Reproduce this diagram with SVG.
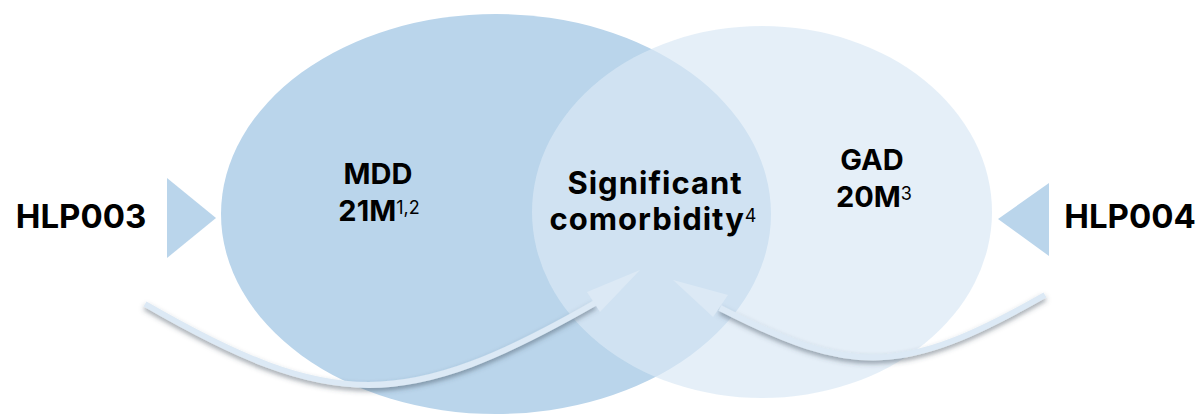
<svg xmlns="http://www.w3.org/2000/svg" width="1198" height="415" viewBox="0 0 1198 415">
<defs>
<style>
.lbl{font-family:Inter,"Liberation Sans",sans-serif;font-weight:700;fill:#000;}
.sup{font-weight:400;}
.band{fill:none;stroke:#DCE9F5;stroke-width:6;stroke-linecap:butt;}
.head{fill:#DCE9F5;}
.tri{fill:#BAD5EB;}
</style>
<filter id="sh" x="-10%" y="-30%" width="120%" height="160%">
<feDropShadow dx="0" dy="3" stdDeviation="2.5" flood-color="#3a4a5a" flood-opacity="0.5"/>
</filter>
</defs>
<rect width="1198" height="415" fill="#fff"/>
<g id="mdd">
<ellipse cx="496" cy="214" rx="275" ry="200" fill="#BAD5EB"/>
</g>
<g id="gad">
<ellipse cx="762" cy="212" rx="230" ry="186" fill="#DAE8F5" fill-opacity="0.69"/>
</g>
<g id="hlp003">
<polygon class="tri" points="167,178 167,258 216,218"/>
<text class="lbl" x="81" y="228" font-size="33" text-anchor="middle">HLP003</text>
</g>
<g id="hlp004">
<polygon class="tri" points="1049,183 1049,256 998,219"/>
<text class="lbl" x="1130" y="228" font-size="33" text-anchor="middle">HLP004</text>
</g>
<g id="mdd-label">
<text class="lbl" x="378" y="184" font-size="29" text-anchor="middle">MDD</text>
<text class="lbl" x="379" y="221" font-size="29" text-anchor="middle">21M<tspan class="sup" font-size="18" dy="-7">1,2</tspan></text>
</g>
<g id="gad-label">
<text class="lbl" x="872" y="170" font-size="29" text-anchor="middle">GAD</text>
<text class="lbl" x="874" y="207" font-size="29" text-anchor="middle">20M<tspan class="sup" font-size="18" dy="-7">3</tspan></text>
</g>
<g id="comorbidity">
<text class="lbl" x="655" y="194" font-size="31" letter-spacing="1" text-anchor="middle">Significant</text>
<text class="lbl" x="653" y="230" font-size="31" letter-spacing="1" text-anchor="middle">comorbidity<tspan class="sup" font-size="18" letter-spacing="0" dy="-8">4</tspan></text>
</g>
<g id="connectors">
<path class="band" filter="url(#sh)" d="M145,304 C332,412 405,412 595,303"/>
<polygon class="head" points="587,292 640,270 600,312"/>
<path class="band" filter="url(#sh)" d="M1045,295 C903,376 853,376 720,308"/>
<polygon class="head" points="728,295 673,280 713,317"/>
</g>
</svg>
